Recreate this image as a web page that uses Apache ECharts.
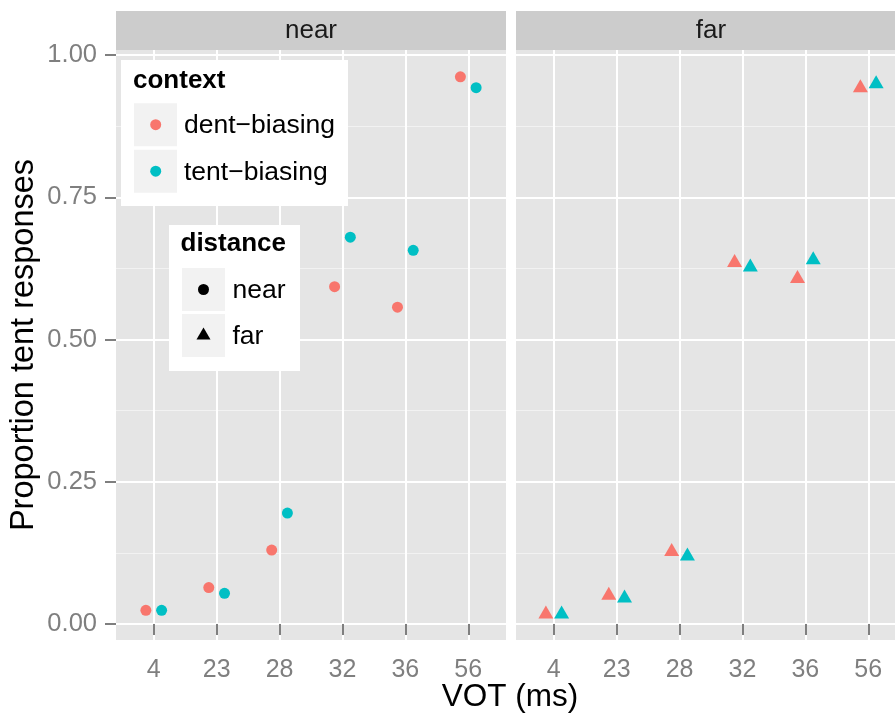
<!DOCTYPE html>
<html><head><meta charset="utf-8">
<script src="https://cdn.jsdelivr.net/npm/echarts@6/dist/echarts.min.js"></script>
<style>html,body{margin:0;padding:0;background:#fff}#c{width:895px;height:718px}</style>
</head><body><div id="c"></div>
<script>
// ---- data ----
const categories = ['4', '23', '28', '32', '36', '56'];
const nearDent = [0.024, 0.064, 0.130, 0.593, 0.557, 0.962];
const nearTent = [0.024, 0.054, 0.195, 0.680, 0.657, 0.943];
const farDent  = [0.019, 0.052, 0.129, 0.637, 0.609, 0.944];
const farTent  = [0.019, 0.047, 0.121, 0.629, 0.642, 0.951];
const yTicks = [0, 0.25, 0.5, 0.75, 1];
const yMinorTicks = [0.125, 0.375, 0.625, 0.875];
const contextNames = ['dent\u2212biasing', 'tent\u2212biasing'];
const distanceNames = ['near', 'far'];
const facetNames = ['near', 'far'];

// ---- styling ----
const FONT = '"Liberation Sans", Arial, Helvetica, sans-serif';
const DENT = '#F8766D', TENT = '#00BFC4';
const GREY50 = '#7F7F7F';
const DODGE = 0.125;

const allVals = nearDent.concat(nearTent, farDent, farTent);
const lo = Math.min(...allVals), hi = Math.max(...allVals);
const pad = (hi - lo) * 0.05;
const yMin = lo - pad, yMax = hi + pad;
const xMin = 1 - 0.6, xMax = categories.length + 0.6;
const xTickVals = categories.map((c, i) => i + 1);
const toPts = (arr, off) => arr.map((v, i) => [i + 1 + off, v]);

function xAxis(gi) {
  return {
    gridIndex: gi, type: 'value', min: xMin, max: xMax,
    axisLine: { show: false },
    axisTick: { show: true, customValues: xTickVals, length: 11, lineStyle: { color: GREY50, width: 2 } },
    axisLabel: { customValues: xTickVals, formatter: v => categories[Math.round(v) - 1],
      color: GREY50, fontSize: 25, fontFamily: FONT, margin: 18 },
    splitLine: { show: true, lineStyle: { color: '#FFFFFF', width: 2 } }
  };
}
function yMajor(gi, showLabels) {
  return {
    gridIndex: gi, type: 'value', min: yMin, max: yMax, position: 'left',
    axisLine: { show: false },
    axisTick: { show: showLabels, customValues: yTicks, length: 11, lineStyle: { color: GREY50, width: 2 } },
    axisLabel: { show: showLabels, customValues: yTicks, formatter: v => v.toFixed(2),
      color: GREY50, fontSize: 25.5, fontFamily: FONT, margin: 19 },
    splitLine: { show: true, lineStyle: { color: '#FFFFFF', width: 2 } }
  };
}
function yMinor(gi) {
  return {
    gridIndex: gi, type: 'value', min: yMin, max: yMax, position: 'right', z: -1,
    axisLine: { show: false },
    axisTick: { show: false, customValues: yMinorTicks },
    axisLabel: { show: false },
    splitLine: { show: true, lineStyle: { color: '#F2F2F2', width: 1 } }
  };
}
function scatter(name, gi, vals, off, color, far) {
  return {
    type: 'scatter', name: name, xAxisIndex: gi, yAxisIndex: 2 + gi,
    data: toPts(vals, off), z: 3,
    symbol: far ? 'triangle' : 'circle',
    symbolSize: far ? [15, 13] : 11,
    symbolOffset: far ? [0, -1.2] : [0, 0],
    itemStyle: { color: color, opacity: 1 }
  };
}

const G = [
  { left: 116, top: 50, width: 390, height: 590 },
  { left: 516, top: 50, width: 390, height: 590 }
];

const graphics = [];
// strips
G.forEach((g, i) => {
  graphics.push({ type: 'rect', z: 5, shape: { x: g.left, y: 11, width: g.width, height: 39 }, style: { fill: '#CCCCCC' } });
  graphics.push({ type: 'text', z: 6, x: g.left + 195, y: 30.5,
    style: { text: facetNames[i], fill: '#1A1A1A', font: '26px ' + FONT, textAlign: 'center', textVerticalAlign: 'middle' } });
});
// axis titles
graphics.push({ type: 'text', z: 6, x: 510, y: 697,
  style: { text: 'VOT (ms)', fill: '#000', font: '31.5px ' + FONT, textAlign: 'center', textVerticalAlign: 'middle' } });
graphics.push({ type: 'text', z: 6, x: 24, y: 345, rotation: Math.PI / 2,
  style: { text: 'Proportion tent responses', fill: '#000', font: '32.5px ' + FONT, textAlign: 'center', textVerticalAlign: 'middle' } });

// legend: context
graphics.push({ type: 'rect', z: 5, shape: { x: 121, y: 60, width: 227, height: 146 }, style: { fill: '#FFFFFF' } });
graphics.push({ type: 'text', z: 6, x: 133, y: 81,
  style: { text: 'context', fill: '#000', font: 'bold 26px ' + FONT, textAlign: 'left', textVerticalAlign: 'middle' } });
[DENT, TENT].forEach((col, i) => {
  const cy = 124.7 + i * 46.5;
  graphics.push({ type: 'rect', z: 5, shape: { x: 134, y: cy - 21.5, width: 43, height: 43 }, style: { fill: '#F2F2F2' } });
  graphics.push({ type: 'circle', z: 6, shape: { cx: 155.7, cy: cy, r: 5.5 }, style: { fill: col } });
  graphics.push({ type: 'text', z: 6, x: 184, y: cy + 1,
    style: { text: contextNames[i], fill: '#000', font: '26.5px ' + FONT, textAlign: 'left', textVerticalAlign: 'middle' } });
});
// legend: distance
graphics.push({ type: 'rect', z: 5, shape: { x: 169, y: 225, width: 131, height: 146 }, style: { fill: '#FFFFFF' } });
graphics.push({ type: 'text', z: 6, x: 180.5, y: 244,
  style: { text: 'distance', fill: '#000', font: 'bold 26px ' + FONT, textAlign: 'left', textVerticalAlign: 'middle' } });
distanceNames.forEach((nm, i) => {
  const cy = 289.5 + i * 46;
  graphics.push({ type: 'rect', z: 5, shape: { x: 182, y: cy - 21.5, width: 43, height: 43 }, style: { fill: '#F2F2F2' } });
  if (i === 0) {
    graphics.push({ type: 'circle', z: 6, shape: { cx: 203.5, cy: cy, r: 5.5 }, style: { fill: '#000' } });
  } else {
    const k = 5.2;
    graphics.push({ type: 'polygon', z: 6, shape: { points: [[203.5, cy - 1.555 * k], [203.5 + 1.347 * k, cy + 0.778 * k], [203.5 - 1.347 * k, cy + 0.778 * k]] }, style: { fill: '#000' } });
  }
  graphics.push({ type: 'text', z: 6, x: 232.5, y: cy + 1,
    style: { text: nm, fill: '#000', font: '26.5px ' + FONT, textAlign: 'left', textVerticalAlign: 'middle' } });
});

const chart = echarts.init(document.getElementById('c'), null, { renderer: 'canvas' });
chart.setOption({
  backgroundColor: '#FFFFFF',
  animation: false,
  textStyle: { fontFamily: FONT },
  grid: G.map(g => Object.assign({ show: true, backgroundColor: '#E5E5E5', borderWidth: 0, z: -5,
    containLabel: false, outerBoundsMode: 'none' }, g)),
  xAxis: [xAxis(0), xAxis(1)],
  yAxis: [yMinor(0), yMinor(1), yMajor(0, true), yMajor(1, false)],
  series: [
    scatter(contextNames[0], 0, nearDent, -DODGE, DENT, false),
    scatter(contextNames[1], 0, nearTent, DODGE, TENT, false),
    scatter(contextNames[0], 1, farDent, -DODGE, DENT, true),
    scatter(contextNames[1], 1, farTent, DODGE, TENT, true)
  ],
  graphic: { elements: graphics }
});
</script></body></html>
